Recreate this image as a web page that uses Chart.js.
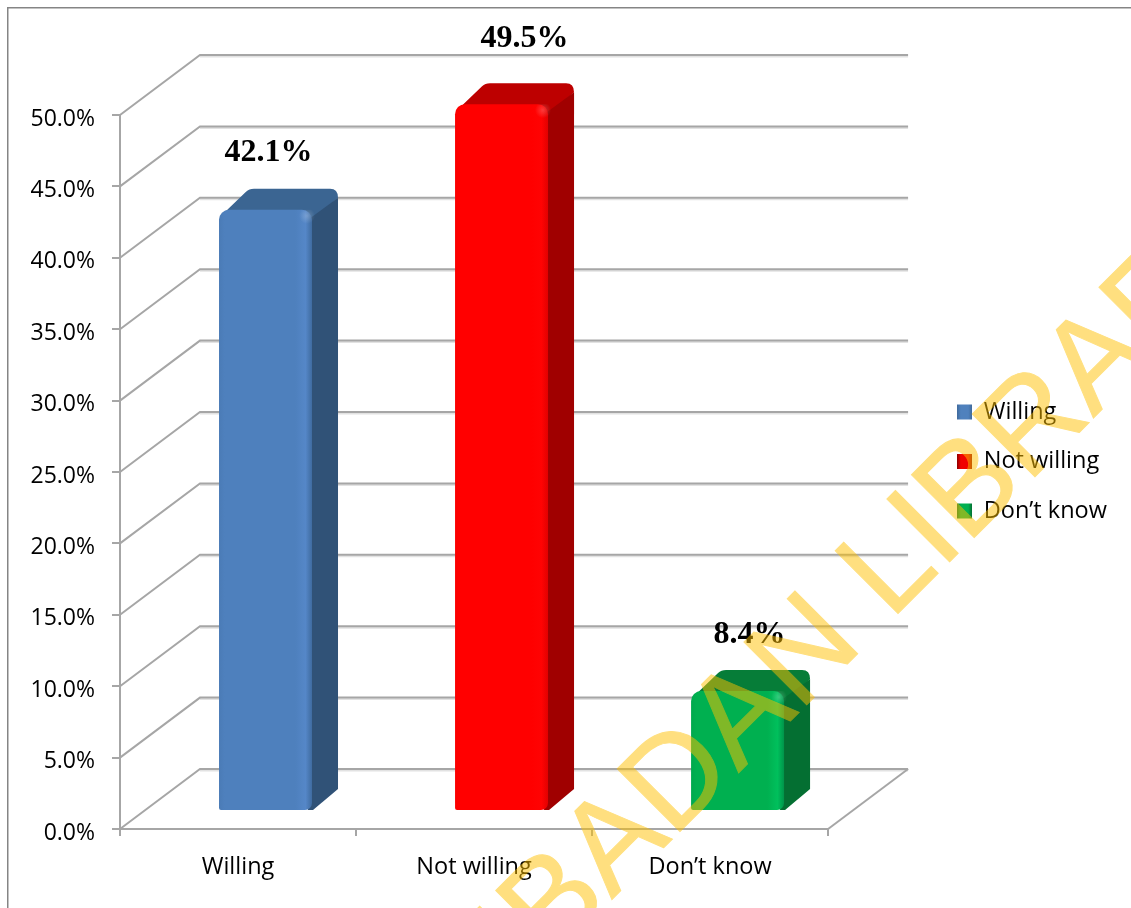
<!DOCTYPE html>
<html>
<head>
<meta charset="utf-8">
<style>
    html, body { margin: 0; padding: 0; background: #fff; }
    canvas { display: block; }
</style>
</head>
<body>
<canvas id="chart" width="1131" height="908"></canvas>
<script src="https://cdn.jsdelivr.net/npm/chart.js@4"></script>
<script>
// --- DATA ---
const categories = ['Willing', 'Not willing', 'Don\u2019t know'];
const percentages = [42.1, 49.5, 8.4];
const tickStep = 5;
const axisMax = 50;

// --- STYLE ---
const faceStops = [
    ['#4a7bb6', '#4e80bd', '#5587c8', '#3f6b9f'],
    ['#fb0000', '#ff0000', '#ff0303', '#e20000'],
    ['#00a94e', '#00b050', '#00c05c', '#00944a']
];
const topColors = ['#3b6592', '#bd0000', '#067d38'];
const sideColors = ['#305277', '#a00000', '#046f32'];
const swatchEdges = ['#3f6a9c', '#8c0000', '#046f32'];
const swatchMiddles = ['#4f81bd', '#f00000', '#00b050'];
const labelNudge = [[3, -49], [23, -57], [12, -48]];

const FONT = '"Open Sans", "Noto Sans", sans-serif';
const GRID = '#a6a6a6';
const WALL_X = 80, WALL_Y = -60;      // back wall offset from the front axes
const SHIFT_X = 27.5, SHIFT_Y = -18;  // bars stand inside the floor
const DEPTH_X = 26, DEPTH_Y = -21;    // depth of each bar
const BAR_FRACTION = 0.394;
const LEGEND_LEFT = 931, LEGEND_PAD = 26, SWATCH = 15;

function faceGradient(context) {
    const chart = context.chart;
    const i = context.dataIndex;
    const scale = chart.scales.x;
    if (!scale || i === undefined) return faceStops[0][1];
    const half = scale.width / categories.length * BAR_FRACTION / 2;
    const mid = scale.getPixelForValue(i);
    const g = chart.ctx.createLinearGradient(mid - half, 0, mid + half, 0);
    const c = faceStops[i];
    g.addColorStop(0, c[0]);
    g.addColorStop(0.06, c[1]);
    g.addColorStop(0.82, c[1]);
    g.addColorStop(0.93, c[2]);
    g.addColorStop(1, c[3]);
    return g;
}

function swatchGradient(chart, i) {
    const x = LEGEND_LEFT + LEGEND_PAD;
    const g = chart.ctx.createLinearGradient(x, 0, x + SWATCH, 0);
    g.addColorStop(0, swatchEdges[i]);
    g.addColorStop(0.25, swatchMiddles[i]);
    g.addColorStop(0.75, swatchMiddles[i]);
    g.addColorStop(1, swatchEdges[i]);
    return g;
}

// --- PLUGIN: frame and back wall of the fake 3D chart ---
const wallPlugin = {
    id: 'wall',
    beforeDraw(chart) {
        const ctx = chart.ctx;
        ctx.save();
        ctx.fillStyle = '#858585';
        ctx.fillRect(7, 7, chart.width - 7, 1.5);
        ctx.fillRect(7, 7, 1.5, chart.height - 7);
        ctx.restore();
    },
    beforeDatasetsDraw(chart) {
        const ctx = chart.ctx;
        const { left, right, bottom } = chart.chartArea;
        const yScale = chart.scales.y;
        ctx.save();
        ctx.lineCap = 'butt';
        yScale.ticks.forEach(t => {
            const y = yScale.getPixelForValue(t.value);
            // soft shadow under the back line
            ctx.strokeStyle = '#e2e2e2';
            ctx.lineWidth = 2;
            ctx.beginPath();
            ctx.moveTo(left + WALL_X, y + WALL_Y + 1.5);
            ctx.lineTo(right + WALL_X, y + WALL_Y + 1.5);
            ctx.stroke();
            ctx.strokeStyle = GRID;
            ctx.lineWidth = 2;
            ctx.beginPath();
            ctx.moveTo(left, y);
            ctx.lineTo(left + WALL_X, y + WALL_Y);
            ctx.lineTo(right + WALL_X, y + WALL_Y);
            ctx.stroke();
        });
        // right edge of the floor
        ctx.beginPath();
        ctx.moveTo(right, bottom);
        ctx.lineTo(right + WALL_X, bottom + WALL_Y);
        ctx.stroke();
        ctx.restore();
    }
};

// --- PLUGIN: moves the bars back and adds top and side faces ---
const depthPlugin = {
    id: 'depth',
    beforeDatasetDraw(chart, args) {
        const ctx = chart.ctx;
        ctx.save();
        ctx.translate(SHIFT_X, SHIFT_Y);
        args.meta.data.forEach((bar, i) => {
            const xL = bar.x - bar.width / 2;
            const xR = bar.x + bar.width / 2;
            const top = bar.y, base = bar.base;

            ctx.fillStyle = topColors[i];
            ctx.beginPath();
            ctx.moveTo(xL + 1, top + 7);
            ctx.lineTo(xL + DEPTH_X + 1, top + DEPTH_Y + 3);
            ctx.quadraticCurveTo(xL + DEPTH_X + 4, top + DEPTH_Y, xL + DEPTH_X + 9, top + DEPTH_Y);
            ctx.lineTo(xR + DEPTH_X - 8, top + DEPTH_Y);
            ctx.quadraticCurveTo(xR + DEPTH_X, top + DEPTH_Y, xR + DEPTH_X, top + DEPTH_Y + 9);
            ctx.lineTo(xR, top + 12);
            ctx.closePath();
            ctx.fill();

            ctx.fillStyle = sideColors[i];
            ctx.beginPath();
            ctx.moveTo(xR - 4, top + 10);
            ctx.lineTo(xR + DEPTH_X, top + DEPTH_Y + 9);
            ctx.lineTo(xR + DEPTH_X, base + DEPTH_Y);
            ctx.lineTo(xR + 1, base);
            ctx.lineTo(xR - 4, base);
            ctx.closePath();
            ctx.fill();
        });
    },
    afterDatasetDraw(chart, args) {
        const ctx = chart.ctx;
        // small shine on the front corner
        args.meta.data.forEach(bar => {
            const cx = bar.x + bar.width / 2 - 5, cy = bar.y + 6;
            const glow = ctx.createRadialGradient(cx, cy, 0, cx, cy, 8);
            glow.addColorStop(0, 'rgba(255,255,255,0.22)');
            glow.addColorStop(1, 'rgba(255,255,255,0)');
            ctx.fillStyle = glow;
            ctx.fillRect(cx - 8, cy - 6, 16, 14);
        });
        ctx.restore();
    }
};

// --- PLUGIN: value labels and watermark ---
const overlayPlugin = {
    id: 'overlay',
    afterDatasetsDraw(chart) {
        const ctx = chart.ctx;
        const bars = chart.getDatasetMeta(0).data;
        ctx.save();
        ctx.fillStyle = '#000';
        ctx.font = 'bold 32px "Liberation Serif", serif';
        ctx.textAlign = 'center';
        ctx.textBaseline = 'alphabetic';
        bars.forEach((bar, i) => {
            ctx.fillText(percentages[i].toFixed(1) + '%',
                bar.x + SHIFT_X + labelNudge[i][0],
                bar.y + SHIFT_Y + labelNudge[i][1]);
        });
        ctx.restore();
    },
    afterDraw(chart) {
        // stamped on a spare canvas so fill and outline share one alpha
        const mark = document.createElement('canvas');
        mark.width = chart.width;
        mark.height = chart.height;
        const m = mark.getContext('2d');
        m.translate(525.6, 986);
        m.rotate(-45 * Math.PI / 180);
        m.fillStyle = m.strokeStyle = '#ffc000';
        m.lineWidth = 1;
        m.lineJoin = 'miter';
        m.font = '129px "Liberation Sans", sans-serif';
        m.fillText('IBADAN LIBRARY', 0, 0);
        m.strokeText('IBADAN LIBRARY', 0, 0);

        const ctx = chart.ctx;
        ctx.save();
        ctx.globalAlpha = 0.5;
        ctx.drawImage(mark, 0, 0);
        ctx.restore();
    }
};

// --- PLUGIN: pushes the legend out to the right of the plot ---
const legendPlugin = {
    id: 'legendPlace',
    afterLayout(chart) {
        chart.legend.left = LEGEND_LEFT;
        chart.legend.right = chart.width;
        chart.legend.top -= 50;
        chart.legend.bottom -= 50;
    }
};

new Chart(document.getElementById('chart'), {
    type: 'bar',
    data: {
        labels: categories,
        datasets: [{
            data: percentages,
            backgroundColor: faceGradient,
            barPercentage: BAR_FRACTION,
            categoryPercentage: 1,
            borderSkipped: false,
            borderRadius: { topLeft: 10, topRight: 10, bottomLeft: 2, bottomRight: 7 },
            clip: false
        }]
    },
    plugins: [wallPlugin, depthPlugin, overlayPlugin, legendPlugin],
    options: {
        responsive: false,
        animation: false,
        layout: { padding: { top: 115, right: 117, left: 0, bottom: 0 } },
        plugins: {
            tooltip: { enabled: false },
            title: { display: false },
            legend: {
                position: 'right',
                labels: {
                    color: '#000',
                    font: { family: FONT, size: 23.5 },
                    boxWidth: SWATCH,
                    boxHeight: SWATCH,
                    padding: LEGEND_PAD,
                    generateLabels: chart => categories.map((c, i) => ({
                        text: c,
                        fillStyle: swatchGradient(chart, i),
                        strokeStyle: swatchEdges[i],
                        lineWidth: 0,
                        index: i
                    }))
                }
            }
        },
        scales: {
            x: {
                afterFit(scale) { scale.height = 79; },
                grid: { drawOnChartArea: false, color: GRID, tickLength: 7, lineWidth: 2 },
                border: { color: GRID, width: 2 },
                ticks: { color: '#000', font: { family: FONT, size: 23.5 }, padding: 17, maxRotation: 0 }
            },
            y: {
                min: 0,
                max: axisMax,
                afterFit(scale) { scale.width = 120; },
                grid: { drawOnChartArea: false, color: GRID, tickLength: 8, lineWidth: 2 },
                border: { color: GRID, width: 2 },
                ticks: {
                    stepSize: tickStep,
                    color: '#000',
                    font: { family: FONT, size: 23 },
                    padding: 17,
                    labelOffset: 4,
                    callback: value => value.toFixed(1) + '%'
                }
            }
        }
    }
});
</script>
</body>
</html>
